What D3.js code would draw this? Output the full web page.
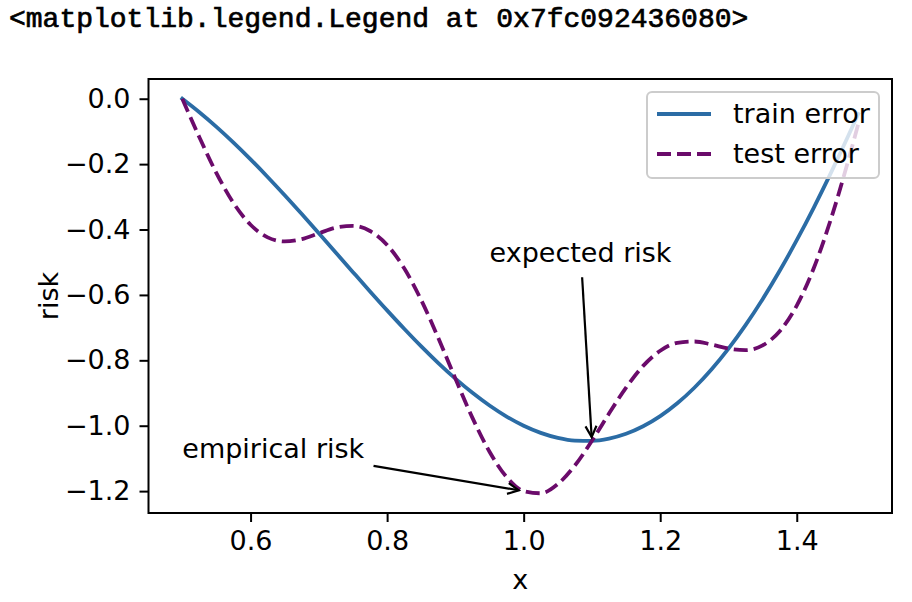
<!DOCTYPE html>
<html>
<head>
<meta charset="utf-8">
<script src="https://cdn.jsdelivr.net/npm/d3@7"></script>
<style>
  html, body { margin: 0; padding: 0; background: #fff; }
  svg { display: block; }
  text { font-family: "DejaVu Sans", sans-serif; fill: #000; }
</style>
</head>
<body>
<svg id="chart" width="912" height="602"></svg>
<script>
// ---- data ----
const xs = [0.5, 0.525, 0.55, 0.575, 0.6, 0.625, 0.65, 0.675, 0.7, 0.725, 0.75, 0.775, 0.8, 0.825, 0.85, 0.875, 0.9, 0.925, 0.95, 0.975,
            1.0, 1.025, 1.05, 1.075, 1.1, 1.125, 1.15, 1.175, 1.2, 1.225, 1.25, 1.275, 1.3, 1.325, 1.35, 1.375, 1.4, 1.425, 1.45, 1.475, 1.49];
const trainError = [0, -0.0412, -0.0860, -0.1342, -0.1854, -0.2392, -0.2951, -0.3527, -0.4115, -0.4709, -0.5303, -0.5893, -0.6472, -0.7034,
            -0.7574, -0.8084, -0.8560, -0.8994, -0.9383, -0.9720, -1.0, -1.0218, -1.0371, -1.0453, -1.0462, -1.0394, -1.0247, -1.0018,
            -0.9708, -0.9315, -0.8839, -0.8280, -0.7641, -0.6923, -0.6129, -0.5262, -0.4326, -0.3327, -0.2268, -0.1157, -0.0468];
const testError = [0, -0.1177, -0.2274, -0.3190, -0.3854, -0.4240, -0.4365, -0.4292, -0.4115, -0.3944, -0.3889, -0.4045, -0.4472, -0.5186,
            -0.6160, -0.7319, -0.8560, -0.9759, -1.0797, -1.1568, -1.2, -1.2066, -1.1785, -1.1218, -1.0462, -0.9629, -0.8833, -0.8170,
            -0.7708, -0.7467, -0.7425, -0.7515, -0.7641, -0.7688, -0.7543, -0.7110, -0.6326, -0.5175, -0.3682, -0.1922, -0.0781];
const seriesNames = ["train error", "test error"];
const seriesColors = ["#2b6ca5", "#6b0b6b"];
const xTicks = [0.6, 0.8, 1.0, 1.2, 1.4];
const yTicks = [0.0, -0.2, -0.4, -0.6, -0.8, -1.0, -1.2];
const annotations = [
  { label: "empirical risk", point: [1.0, -1.2], text: [0.5, -1.1] },
  { label: "expected risk",  point: [1.1, -1.05], text: [0.95, -0.5] }
];
const title = "<matplotlib.legend.Legend at 0x7fc092436080>";

// ---- layout ----
const svg = d3.select("#chart");
const L = 148.5, R = 892, T = 79, B = 513;
const FS = 27;

svg.append("text").attr("x", 9).attr("y", 27)
  .style("font-family", "'Liberation Mono', 'DejaVu Sans Mono', monospace")
  .style("font-size", "28px").attr("stroke", "#000").attr("stroke-width", 0.7).text(title);

function padded(ext) { const r = ext[1] - ext[0]; return [ext[0] - 0.05 * r, ext[1] + 0.05 * r]; }
const allY = trainError.concat(testError);
const x = d3.scaleLinear().domain(padded(d3.extent(xs))).range([L, R]);
const y = d3.scaleLinear().domain(padded(d3.extent(allY))).range([B, T]);

const fmt = d3.format(".1f");
const xa = svg.append("g").attr("transform", `translate(0,${B})`)
  .call(d3.axisBottom(x).tickValues(xTicks).tickFormat(fmt).tickSize(9).tickPadding(9));
const ya = svg.append("g").attr("transform", `translate(${L},0)`)
  .call(d3.axisLeft(y).tickValues(yTicks).tickFormat(fmt).tickSize(9).tickPadding(9));
[xa, ya].forEach(g => {
  g.select(".domain").remove();
  g.selectAll(".tick line").attr("stroke", "#000").attr("stroke-width", 2);
  g.selectAll(".tick text").style("font-family", "'DejaVu Sans', sans-serif").style("font-size", FS + "px").attr("fill", "#000");
});
xa.selectAll(".tick text").attr("dy", "0.71em");

// lines
const series = [trainError, testError];
const line = d3.line().x((d, i) => x(xs[i])).y(d => y(d)).curve(d3.curveMonotoneX);
series.forEach((s, k) => {
  svg.append("path").datum(s).attr("d", line).attr("fill", "none")
    .attr("stroke", seriesColors[k]).attr("stroke-width", 3.8)
    .attr("stroke-dasharray", k === 1 ? "14,6" : null)
    .attr("stroke-linejoin", "round").attr("stroke-linecap", k === 1 ? "butt" : "square");
});

// frame
svg.append("rect").attr("x", L).attr("y", T).attr("width", R - L).attr("height", B - T)
  .attr("fill", "none").attr("stroke", "#000").attr("stroke-width", 2);

// annotations
annotations.forEach(a => {
  const tx = x(a.text[0]), ty = y(a.text[1]);
  const t = svg.append("text").attr("x", tx).attr("y", ty).style("font-size", FS + "px").text(a.label);
  const bb = t.node().getBBox();
  const pad = 4;
  const bx0 = bb.x - pad, bx1 = bb.x + bb.width + pad, by0 = bb.y - pad, by1 = bb.y + bb.height + pad;
  const cx = bb.x + bb.width / 2, cy = bb.y + bb.height / 2;
  const px = x(a.point[0]), py = y(a.point[1]);
  const dx = px - cx, dy = py - cy, len = Math.hypot(dx, dy);
  const ux = dx / len, uy = dy / len;
  let tExit = Infinity;
  if (ux > 0) tExit = Math.min(tExit, (bx1 - cx) / ux);
  if (ux < 0) tExit = Math.min(tExit, (bx0 - cx) / ux);
  if (uy > 0) tExit = Math.min(tExit, (by1 - cy) / uy);
  if (uy < 0) tExit = Math.min(tExit, (by0 - cy) / uy);
  const shrink = 5;
  const sx = cx + ux * (tExit + shrink), sy = cy + uy * (tExit + shrink);
  const ex = px - ux * shrink, ey = py - uy * shrink;
  svg.append("line").attr("x1", sx).attr("y1", sy).attr("x2", ex).attr("y2", ey)
    .attr("stroke", "#000").attr("stroke-width", 2.2);
  const hl = 11, hw = 5.5;
  const bxp = ex - ux * hl, byp = ey - uy * hl;
  svg.append("path")
    .attr("d", `M${bxp - uy * hw},${byp + ux * hw}L${ex},${ey}L${bxp + uy * hw},${byp - ux * hw}`)
    .attr("fill", "none").attr("stroke", "#000").attr("stroke-width", 2.2).attr("stroke-linejoin", "miter");
});

// axis labels
svg.append("text").attr("x", (L + R) / 2).attr("y", 589).attr("text-anchor", "middle")
  .style("font-size", FS + "px").text("x");
svg.append("text").attr("transform", `translate(58,${(T + B) / 2}) rotate(-90)`).attr("text-anchor", "middle")
  .style("font-size", FS + "px").text("risk");

// legend
const lg = svg.append("g");
const lgX0 = 647, lgY0 = 92, lgW = 232, lgH = 86;
lg.append("rect").attr("x", lgX0).attr("y", lgY0).attr("width", lgW).attr("height", lgH)
  .attr("rx", 5).attr("fill", "#fff").attr("fill-opacity", 0.8)
  .attr("stroke", "#cccccc").attr("stroke-width", 2);
seriesNames.forEach((name, k) => {
  const ly = lgY0 + 22 + k * 40;
  lg.append("line").attr("x1", lgX0 + 10).attr("x2", lgX0 + 64).attr("y1", ly).attr("y2", ly)
    .attr("stroke", seriesColors[k]).attr("stroke-width", 3.8)
    .attr("stroke-dasharray", k === 1 ? "14,6" : null);
  lg.append("text").attr("x", lgX0 + 86).attr("y", ly + 9).style("font-size", FS + "px").text(name);
});
</script>
</body>
</html>
